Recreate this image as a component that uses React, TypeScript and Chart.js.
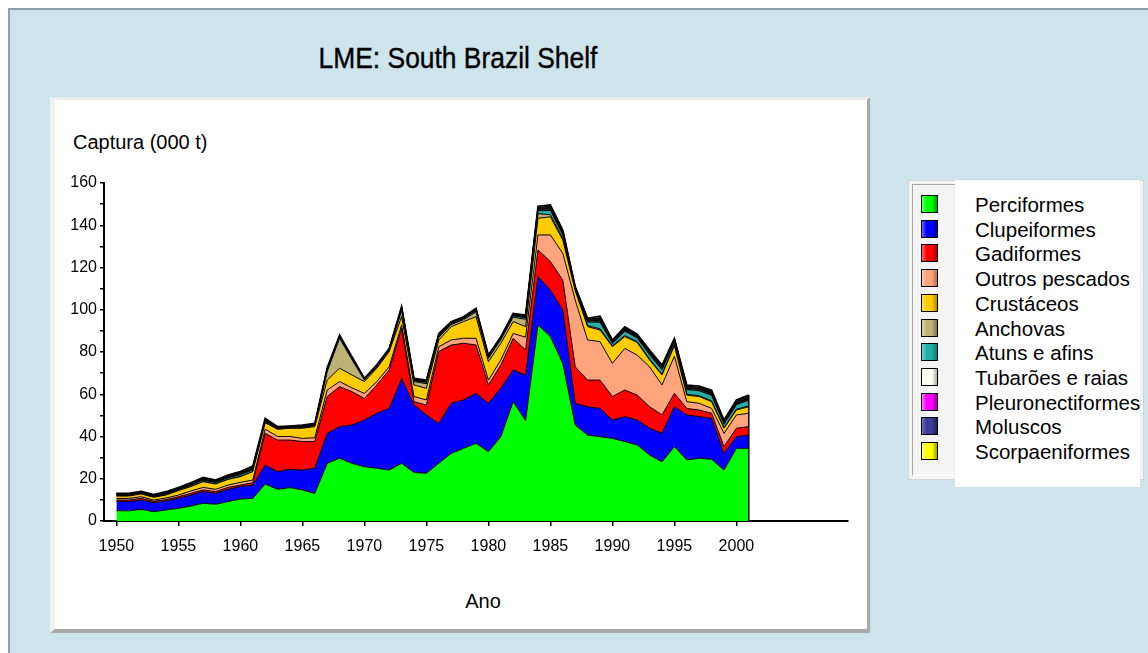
import React, { useEffect, useRef } from 'react';
import { Chart, registerables } from 'chart.js';
Chart.register(...registerables);

const years = [1950,1951,1952,1953,1954,1955,1956,1957,1958,1959,1960,1961,1962,1963,1964,1965,1966,1967,1968,1969,1970,1971,1972,1973,1974,1975,1976,1977,1978,1979,1980,1981,1982,1983,1984,1985,1986,1987,1988,1989,1990,1991,1992,1993,1994,1995,1996,1997,1998,1999,2000,2001];

const perciformes = [4.9,4.8,5.5,4.4,5.2,6.0,7.1,8.4,7.9,9.2,10.4,10.7, 17.5,15.0,15.8,14.7,13.0,27.3,29.7,27.3,25.7,25.0, 24.1,27.3,23.0,22.6,27.3,32.0,34.4,36.8,32.8,39.9, 56.5,47.5,92.8,87.3,74.6,45.4,40.7,39.9,39.1,37.6, 36.0,31.2,28.0,35.2,28.9,29.7,29.2,24.1,34.4,34.4];
const clupeiformes = [4.3,4.4,4.4,4.3,4.3,4.7,5.2,5.5,5.2,5.8,5.9,6.3, 9.0,8.4,8.7,9.4,12.0,14.2,15.0,18.1,22.1,26.0, 29.2,40.2,31.9,27.6,18.9,23.7,22.9,23.6,22.9,22.9, 15.0,21.6,22.9,22.0,25.3,10.3,13.4,13.4,8.7,11.8, 11.8,12.7,13.5,18.9,21.3,19.7,19.4,7.9,5.5,6.3];
const gadiformes = [0.7,0.7,0.8,0.6,0.6,0.8,0.8,0.8,0.8,0.9,0.7,1.1, 15.0,14.9,13.8,13.5,12.6,17.4,18.9,15.8,10.2,13.4, 18.2,23.7,1.6,4.7,34.0,27.6,26.8,22.9,8.7,11.0, 15.0,11.9,12.6,13.5,14.1,17.3,12.6,13.4,11.1,12.6, 11.8,10.2,8.7,6.3,3.1,3.1,2.4,3.2,4.0,4.0];
const outrosPescados = [0.8,0.8,0.8,0.6,0.8,0.8,1.1,1.2,1.1,1.1,1.3,1.3, 2.0,1.7,1.7,1.5,1.8,3.1,2.4,1.8,2.4,1.6, 1.5,1.6,2.4,2.4,2.3,2.4,2.4,3.2,2.3,2.4, 2.3,6.0,7.1,12.6,12.7,31.6,19.0,18.2,15.7,19.7, 18.9,18.9,14.2,17.6,3.2,3.2,2.3,6.3,6.3,6.3];
const crustaceos = [1.1,1.1,1.3,1.3,1.4,2.1,2.1,2.7,2.5,2.7,2.7,4.0, 3.0,3.4,3.9,4.8,5.3,4.7,6.3,6.1,5.6,6.3, 7.2,3.9,5.5,5.5,3.2,6.3,7.9,10.2,8.7,7.9, 5.6,5.0,7.9,8.6,6.3,4.4,6.3,5.5,7.9,5.6, 6.0,3.2,4.7,5.0,3.1,3.2,3.2,2.4,2.3,3.1];
const anchovas = [0,0,0,0,0,0,0,0,0,0,0,0, 0,0,0,0,0,4.0,14.2,7.2,0.7,0.5, 0.4,2.8,1.6,2.2,1.3,1.0,0.9,2.3,1.6,1.7, 2.1,3.5,2.2,1.0,0.8,0.5,0.5,0.6,0.5,0.5, 0.5,0.5,0.4,0.5,0.4,0.4,0.4,0.3,0.4,0.4];
const atuns = [0.5,0.5,0.5,0.5,0.6,0.6,0.7,0.8,0.8,0.8,1.0,1.0, 0.8,0.5,0.4,0.6,0.6,0.7,0.6,0.6,0.3,0.5, 0.4,0.8,0.6,0.7,0.7,0.6,0.6,0.7,0.6,0.6, 0.7,0.8,1.6,2.2,1.9,0.6,1.8,3.2,1.3,2.2, 1.8,2.2,2.3,1.5,2.3,2.4,2.7,1.9,2.3,2.7];
const tubaroes = [0.2,0.2,0.2,0.2,0.3,0.2,0.3,0.3,0.3,0.3,0.4,0.4, 0.3,0.2,0.2,0.2,0.2,0.3,0.2,0.2,0.1,0.2, 0.2,0.3,0.2,0.3,0.3,0.2,0.2,0.3,0.3,0.2, 0.3,0.3,0.5,0.6,0.5,0.2,0.4,0.7,0.3,0.5, 0.4,0.5,0.5,0.4,0.5,0.6,0.6,0.4,0.5,0.6];
const pleuronectiformes = [0.1,0.1,0.1,0.1,0.1,0.1,0.2,0.2,0.2,0.2,0.2,0.3, 0.2,0.1,0.1,0.1,0.1,0.2,0.1,0.1,0.1,0.1, 0.1,0.2,0.1,0.1,0.2,0.1,0.1,0.1,0.1,0.1, 0.2,0.2,0.3,0.4,0.3,0.1,0.2,0.4,0.2,0.3, 0.3,0.3,0.3,0.2,0.3,0.3,0.4,0.3,0.3,0.4];
const moluscos = [0.3,0.3,0.2,0.3,0.3,0.3,0.3,0.4,0.3,0.4,0.4,0.5, 0.4,0.3,0.2,0.3,0.3,0.3,0.3,0.3,0.2,0.2, 0.2,0.4,0.3,0.3,0.3,0.3,0.3,0.3,0.3,0.3, 0.3,0.4,0.6,0.8,0.7,0.3,0.5,0.9,0.5,0.6, 0.5,0.6,0.6,0.5,0.7,0.7,0.8,0.5,0.7,0.8];
const scorpaeniformes = [0.2,0.2,0.2,0.2,0.3,0.3,0.3,0.4,0.3,0.4,0.4,0.4, 0.4,0.2,0.2,0.3,0.3,0.3,0.3,0.3,0.1,0.2, 0.2,0.3,0.3,0.3,0.3,0.2,0.2,0.3,0.3,0.3, 0.3,0.3,0.5,0.6,0.6,0.3,0.5,0.8,0.4,0.6, 0.5,0.6,0.6,0.4,0.6,0.6,0.6,0.5,0.6,0.6];

const seriesNames = ['Perciformes','Clupeiformes','Gadiformes','Outros pescados','Crustáceos','Anchovas','Atuns e afins','Tubarões e raias','Pleuronectiformes','Moluscos','Scorpaeniformes'];
const seriesValues = [perciformes, clupeiformes, gadiformes, outrosPescados, crustaceos, anchovas, atuns, tubaroes, pleuronectiformes, moluscos, scorpaeniformes];

const xTickYears = [1950,1955,1960,1965,1970,1975,1980,1985,1990,1995,2000];
const yTickValues = [0,10,20,30,40,50,60,70,80,90,100,110,120,130,140,150,160];
const yLabelStep = 20;

const chartTitle = 'LME: South Brazil Shelf';
const yAxisTitle = 'Captura (000 t)';
const xAxisTitle = 'Ano';

// styles
const fillColors = ['#00ff00','#0000ff','#ff0000','#ffa47c','#ffcc00','#bdb274','#22b0a8','#fffff0','#ff00ff','#3c3c96','#ffff00'];
const borderWidths = [1,1,1,1,1,1,1.3,1.3,1.3,1.3,1.6];
const swatchLight = ['#66ff66','#6666ff','#ff6666','#ffc8aa','#ffe066','#dcd4a0','#70d6d0','#ffffff','#ff77ff','#6e6ec0','#ffff88'];
const swatchDark = ['#00a000','#0000a0','#b00000','#b07050','#b08c00','#7d7448','#16766f','#b0b0a0','#a000a0','#1e1e5a','#a0a000'];

const tickFont = { family: '"Liberation Sans", Arial, sans-serif', size: 16 };

const edgePlugin = {
  id: 'rightEdge',
  afterDatasetsDraw(chart: any) {
    const n = chart.data.datasets.length;
    const meta = chart.getDatasetMeta(n - 1);
    const pt = meta.data[meta.data.length - 1];
    if (!pt) return;
    const yb = chart.scales.y.getPixelForValue(0);
    const ctx = chart.ctx;
    ctx.save();
    ctx.strokeStyle = '#000';
    ctx.lineWidth = 1.5;
    ctx.beginPath();
    ctx.moveTo(pt.x, pt.y);
    ctx.lineTo(pt.x, yb);
    ctx.stroke();
    ctx.restore();
  },
};

export default function App() {
  const canvasRef = useRef<HTMLCanvasElement>(null);

  useEffect(() => {
    const datasets = seriesValues.map((vals, i) => ({
      label: seriesNames[i],
      data: years.map((yr, j) => ({ x: yr, y: vals[j] })),
      backgroundColor: fillColors[i],
      borderColor: '#000',
      borderWidth: borderWidths[i],
      fill: i === 0 ? 'origin' : '-1',
      pointRadius: 0,
      tension: 0,
    }));
    const chart = new Chart(canvasRef.current as HTMLCanvasElement, {
      type: 'line',
      data: { datasets },
      plugins: [edgePlugin],
      options: {
        animation: false,
        responsive: false,
        events: [],
        layout: { padding: { left: 4, top: 23, right: 12, bottom: 19 } },
        plugins: { legend: { display: false }, tooltip: { enabled: false } },
        scales: {
          x: {
            type: 'linear',
            min: 1949,
            max: 2009,
            afterBuildTicks: (s: any) => { s.ticks = xTickYears.map((v) => ({ value: v })); },
            afterFit: (s: any) => { s.height = 40; },
            ticks: { font: tickFont, color: '#000', padding: 11, maxRotation: 0, autoSkip: false, callback: (v: any) => String(v) },
            grid: { display: true, drawOnChartArea: false, drawTicks: true, tickLength: 5, color: '#000', lineWidth: 1.5 },
            border: { display: true, color: '#000', width: 2 },
          },
          y: {
            stacked: true,
            min: 0,
            max: 160,
            afterBuildTicks: (s: any) => { s.ticks = yTickValues.map((v) => ({ value: v })); },
            afterFit: (s: any) => { s.width = 60; },
            ticks: { font: tickFont, color: '#000', padding: 3, autoSkip: false, callback: (v: any) => (v % yLabelStep === 0 ? String(v) : '') },
            grid: { display: true, drawOnChartArea: false, drawTicks: true, tickLength: 4, color: '#000', lineWidth: 1.5 },
            border: { display: true, color: '#000', width: 2 },
          },
        },
      } as any,
    });
    return () => chart.destroy();
  }, []);

  const sans = '"Liberation Sans", Arial, sans-serif';
  const rowH = 24.7;

  return (
    <div style={{ position: 'fixed', left: 0, top: 0, right: 0, bottom: 0, overflow: 'hidden', background: '#fff', fontFamily: sans }}>
      <div style={{ position: 'absolute', left: 8, top: 8, right: 0, bottom: 0, background: '#cee4ec', borderTop: '2px solid #8d9fa7', borderLeft: '2px solid #8d9fa7' }} />
      <div style={{ position: 'absolute', left: 258, width: 400, top: 41, lineHeight: '34px', textAlign: 'center', fontSize: 30, color: '#000', transform: 'scaleX(0.88)', transformOrigin: '200px 0', WebkitTextStroke: '0.4px #000' }}>{chartTitle}</div>
      <div style={{ position: 'absolute', left: 50, top: 97, width: 820, height: 536, boxSizing: 'border-box', background: '#fff', borderTop: '3px solid #ececec', borderLeft: '5px solid #f1f1f1', borderRight: '3px solid #a9a9a9', borderBottom: '4px solid #a9a9a9' }} />
      <canvas ref={canvasRef} width={820} height={420} style={{ position: 'absolute', left: 40, top: 160, width: 820, height: 420 }} />
      <div style={{ position: 'absolute', left: 73, top: 131, fontSize: 20, lineHeight: '22px', color: '#000', whiteSpace: 'nowrap' }}>{yAxisTitle}</div>
      <div style={{ position: 'absolute', left: 433, width: 100, top: 590, fontSize: 20, lineHeight: '22px', textAlign: 'center', color: '#000' }}>{xAxisTitle}</div>
      <div style={{ position: 'absolute', left: 908, top: 180, width: 236, height: 300, boxSizing: 'border-box', background: '#f4f4f4', border: '1px solid #d4d4d4' }} />
      <div style={{ position: 'absolute', left: 912, top: 184, width: 44, height: 292, boxSizing: 'border-box', borderTop: '1px solid #a8a8a8', borderLeft: '1px solid #a8a8a8', borderBottom: '1px solid #ffffff' }} />
      <div style={{ position: 'absolute', left: 955, top: 180, width: 185, height: 307, background: '#fff', boxShadow: '0 0 1px #d0d0d0' }} />
      {seriesNames.map((name, i) => (
        <React.Fragment key={name}>
          <div style={{ position: 'absolute', left: 921, top: 195 + i * rowH, width: 17, height: 18, boxSizing: 'border-box', border: '1px solid #000', background: `linear-gradient(to right, ${swatchLight[i]} 0%, ${fillColors[i]} 30%, ${fillColors[i]} 65%, ${swatchDark[i]} 100%)` }} />
          <div style={{ position: 'absolute', left: 975, top: 193 + i * rowH, height: rowH, lineHeight: `${rowH}px`, fontSize: 20.5, color: '#000', whiteSpace: 'nowrap' }}>{name}</div>
        </React.Fragment>
      ))}
    </div>
  );
}
